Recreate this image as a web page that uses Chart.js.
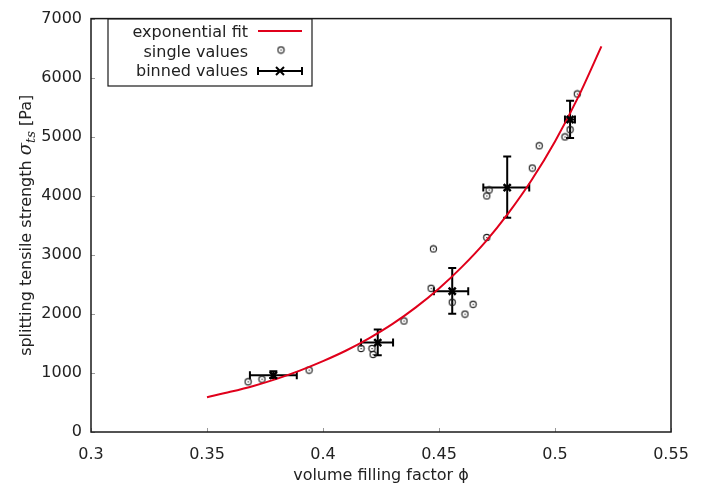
<!DOCTYPE html>
<html>
<head>
<meta charset="utf-8">
<script src="https://cdn.jsdelivr.net/npm/chart.js@4"></script>
<style>
  html, body { margin: 0; padding: 0; background: #fff; }
  #wrap { width: 711px; height: 486px; position: relative; }
</style>
</head>
<body>
<div id="wrap"><canvas id="c"></canvas></div>
<script>
// ---- data ----
const xTickLabels = ['0.3', '0.35', '0.4', '0.45', '0.5', '0.55'];
const yTickLabels = ['0', '1000', '2000', '3000', '4000', '5000', '6000', '7000'];

const fitX = [0.35, 0.36, 0.37, 0.38, 0.39, 0.40, 0.41, 0.42, 0.43, 0.44, 0.45, 0.46, 0.47, 0.48, 0.49, 0.50, 0.51, 0.52];
const fitY = [590, 680, 780, 900, 1040, 1200, 1380, 1590, 1830, 2110, 2430, 2800, 3220, 3710, 4270, 4920, 5670, 6530];

const singleX = [0.3677, 0.3737, 0.394, 0.4164, 0.4211, 0.4216, 0.4349, 0.4466, 0.4476, 0.4557, 0.4612, 0.4647, 0.4706, 0.4706, 0.4716, 0.4902, 0.4932, 0.5043, 0.5065, 0.5096];
const singleY = [850, 895, 1048, 1414, 1414, 1314, 1880, 2434, 3100, 2196, 1997, 2163, 3294, 3998, 4098, 4470, 4847, 4997, 5120, 5724];

const binX   = [0.3786, 0.4236, 0.4557, 0.4794, 0.5065];
const binY   = [960, 1514, 2384, 4138, 5291];
const binXLo = [0.3685, 0.4164, 0.4478, 0.4691, 0.5043];
const binXHi = [0.3887, 0.4302, 0.4626, 0.4889, 0.5086];
const binYLo = [915, 1298, 2002, 3627, 4980];
const binYHi = [1030, 1735, 2779, 4664, 5607];

const legendLabels = ['exponential fit', 'single values', 'binned values'];
const xTitle = 'volume filling factor \u03D5';
const yTitleParts = ['splitting tensile strength ', '\u03C3', 'ts', ' [Pa]'];

// ---- styles ----
const RED = '#e0001b';
const FONT = '"DejaVu Sans", "Liberation Sans", sans-serif';

// circle-with-dot marker
function makeCircleMarker() {
  const c = document.createElement('canvas');
  c.width = 9; c.height = 9;
  const g = c.getContext('2d');
  g.strokeStyle = '#1e1e1e';
  g.lineWidth = 1.1;
  g.beginPath(); g.arc(4.5, 4.5, 3.1, 0, Math.PI * 2); g.stroke();
  g.fillStyle = '#1e1e1e';
  g.fillRect(4, 4, 1.2, 1.2);
  return c;
}
const circleMarker = makeCircleMarker();

function drawCross(ctx, x, y, r) {
  ctx.beginPath();
  ctx.moveTo(x - r, y - r); ctx.lineTo(x + r, y + r);
  ctx.moveTo(x - r, y + r); ctx.lineTo(x + r, y - r);
  ctx.stroke();
}

const decorPlugin = {
  id: 'decor',
  beforeDatasetsDraw(chart) {
    // error bars
    const ctx = chart.ctx, xs = chart.scales.x, ys = chart.scales.y;
    ctx.save();
    ctx.strokeStyle = '#000';
    ctx.lineWidth = 2;
    const cap = 4;
    for (let i = 0; i < binX.length; i++) {
      const px = xs.getPixelForValue(binX[i]), py = ys.getPixelForValue(binY[i]);
      const x0 = xs.getPixelForValue(binXLo[i]), x1 = xs.getPixelForValue(binXHi[i]);
      const y0 = ys.getPixelForValue(binYLo[i]), y1 = ys.getPixelForValue(binYHi[i]);
      ctx.beginPath();
      ctx.moveTo(x0, py); ctx.lineTo(x1, py);
      ctx.moveTo(x0, py - cap); ctx.lineTo(x0, py + cap);
      ctx.moveTo(x1, py - cap); ctx.lineTo(x1, py + cap);
      ctx.moveTo(px, y0); ctx.lineTo(px, y1);
      ctx.moveTo(px - cap, y0); ctx.lineTo(px + cap, y0);
      ctx.moveTo(px - cap, y1); ctx.lineTo(px + cap, y1);
      ctx.stroke();
    }
    ctx.restore();
  },
  afterDraw(chart) {
    const ctx = chart.ctx, a = chart.chartArea, xs = chart.scales.x, ys = chart.scales.y;
    ctx.save();
    // inward tick marks
    ctx.strokeStyle = '#999';
    ctx.lineWidth = 1;
    ctx.beginPath();
    xs.ticks.forEach(t => {
      const p = Math.round(xs.getPixelForValue(t.value)) + 0.5;
      ctx.moveTo(p, a.bottom); ctx.lineTo(p, a.bottom - 4);
    });
    ys.ticks.forEach(t => {
      const p = Math.round(ys.getPixelForValue(t.value)) + 0.5;
      ctx.moveTo(a.left, p); ctx.lineTo(a.left + 4, p);
    });
    ctx.stroke();
    // frame
    ctx.strokeStyle = '#1a1a1a';
    ctx.lineWidth = 1.5;
    ctx.strokeRect(a.left, a.top, a.right - a.left, a.bottom - a.top);

    // y axis title with italic sigma + subscript
    ctx.translate(31, (a.top + a.bottom) / 2);
    ctx.rotate(-Math.PI / 2);
    ctx.fillStyle = '#222';
    ctx.textBaseline = 'alphabetic';
    const fMain = '16px ' + FONT;
    const fSig = 'italic 18px "DejaVu Serif", "Liberation Serif", serif';
    const fSub = 'italic 13px "DejaVu Serif", "Liberation Serif", serif';
    ctx.font = fMain; const w0 = ctx.measureText(yTitleParts[0]).width;
    ctx.font = fSig;  const w1 = ctx.measureText(yTitleParts[1]).width;
    ctx.font = fSub;  const w2 = ctx.measureText(yTitleParts[2]).width;
    ctx.font = fMain; const w3 = ctx.measureText(yTitleParts[3]).width;
    let x = -(w0 + w1 + w2 + w3) / 2;
    ctx.font = fMain; ctx.fillText(yTitleParts[0], x, 0); x += w0;
    ctx.font = fSig;  ctx.fillText(yTitleParts[1], x, 0); x += w1;
    ctx.font = fSub;  ctx.fillText(yTitleParts[2], x, 4); x += w2;
    ctx.font = fMain; ctx.fillText(yTitleParts[3], x, 0);
    ctx.setTransform(1, 0, 0, 1, 0, 0);

    // legend box
    const L = { left: 108, top: 19, right: 312, bottom: 86 };
    ctx.fillStyle = '#fff';
    ctx.fillRect(L.left, L.top, L.right - L.left, L.bottom - L.top);
    ctx.strokeStyle = '#1a1a1a';
    ctx.lineWidth = 1.2;
    ctx.strokeRect(L.left, L.top, L.right - L.left, L.bottom - L.top);
    ctx.font = '16px ' + FONT;
    ctx.fillStyle = '#222';
    ctx.textAlign = 'right';
    ctx.textBaseline = 'middle';
    const rows = [33, 53, 72];
    legendLabels.forEach((t, i) => ctx.fillText(t, 248, rows[i]));
    // samples
    ctx.strokeStyle = RED; ctx.lineWidth = 2;
    ctx.beginPath(); ctx.moveTo(258, 31); ctx.lineTo(302, 31); ctx.stroke();
    ctx.drawImage(circleMarker, 281 - 4.5, 50 - 4.5);
    ctx.strokeStyle = '#000'; ctx.lineWidth = 2;
    ctx.beginPath();
    ctx.moveTo(258, 71); ctx.lineTo(302, 71);
    ctx.moveTo(258, 67); ctx.lineTo(258, 75);
    ctx.moveTo(302, 67); ctx.lineTo(302, 75);
    ctx.stroke();
    drawCross(ctx, 280, 71, 4);
    ctx.restore();
  }
};

const fitData = fitX.map((x, i) => ({ x, y: fitY[i] }));
const singleData = singleX.map((x, i) => ({ x, y: singleY[i] }));
const binData = binX.map((x, i) => ({ x, y: binY[i] }));

new Chart(document.getElementById('c'), {
  type: 'scatter',
  data: {
    datasets: [
      { label: legendLabels[0], data: fitData, showLine: true, borderColor: RED, borderWidth: 2,
        pointRadius: 0, tension: 0.3, fill: false, order: 1 },
      { label: legendLabels[1], data: singleData, pointStyle: circleMarker, pointRadius: 4, order: 2 },
      { label: legendLabels[2], data: binData, pointStyle: 'crossRot', pointRadius: 5,
        borderColor: '#000', backgroundColor: '#000', pointBorderWidth: 2.5, order: 0 }
    ]
  },
  options: {
    responsive: true,
    maintainAspectRatio: false,
    animation: false,
    devicePixelRatio: 1,
    layout: { padding: { left: 0, right: 40, top: 11, bottom: 0 } },
    plugins: { legend: { display: false }, tooltip: { enabled: false } },
    scales: {
      x: {
        type: 'linear', min: 0.3, max: 0.55,
        grid: { display: false, drawTicks: false },
        border: { display: false },
        ticks: {
          stepSize: 0.05, padding: 13, color: '#222', font: { family: FONT, size: 16 },
          callback: (v, i) => xTickLabels[i]
        },
        title: { display: true, text: xTitle, color: '#222', font: { family: FONT, size: 16 },
                 padding: { top: 0, bottom: 1 } },
        afterFit: s => { s.height = 54; }
      },
      y: {
        type: 'linear', min: 0, max: 7000,
        grid: { display: false, drawTicks: false },
        border: { display: false },
        ticks: {
          stepSize: 1000, padding: 9, color: '#222', font: { family: FONT, size: 16 },
          callback: (v, i) => yTickLabels[i]
        },
        afterFit: s => { s.width = 91; }
      }
    }
  },
  plugins: [decorPlugin]
});
</script>
</body>
</html>
